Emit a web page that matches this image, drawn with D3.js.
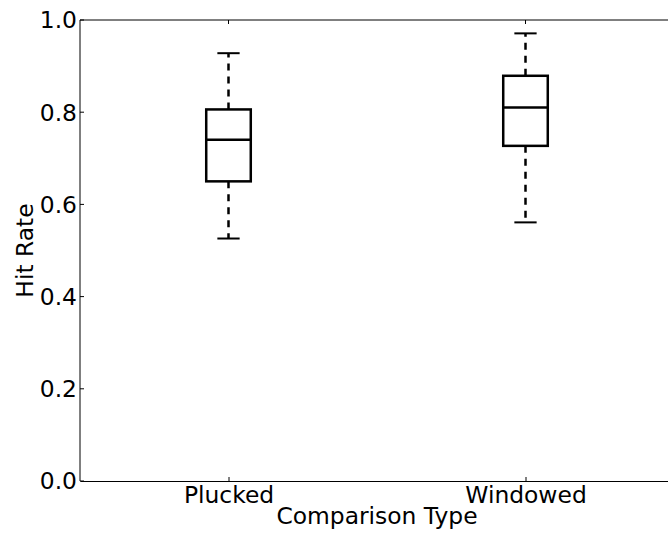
<!DOCTYPE html>
<html>
<head>
<meta charset="utf-8">
<script src="https://cdn.jsdelivr.net/npm/d3@7"></script>
<style>
  html, body { margin: 0; padding: 0; background: #fff; overflow: hidden; }
  svg { display: block; }
  text { font-family: "DejaVu Sans", sans-serif; fill: #000; }
</style>
</head>
<body>
<div id="chart"></div>
<script>
// Box plot summary statistics per comparison type
const categories = ["Plucked", "Windowed"];
const whiskerLow  = [0.526, 0.561];
const quartile1   = [0.650, 0.727];
const medians     = [0.740, 0.810];
const quartile3   = [0.806, 0.879];
const whiskerHigh = [0.928, 0.971];
const yTicks = [0.0, 0.2, 0.4, 0.6, 0.8, 1.0];

const W = 668, H = 536;
const fontSize = 23.4;

const svg = d3.select("#chart").append("svg")
  .attr("width", W).attr("height", H);

// positions 1..n, axis spans 0.5 .. n+0.5 (right edge runs past the view)
const x = d3.scaleLinear().domain([0.5, categories.length + 0.5]).range([80, 674]);
const y = d3.scaleLinear().domain([0, 1]).range([481, 20]);

const boxW = x(1.15) - x(1);
const capW = x(1.075) - x(1);

// plot frame clipped to the view: top spine plus the two visible axes
const frameRight = Math.min(x(2.5), W);
svg.append("path")
  .attr("d", `M${x(0.5)},${y(1)}H${frameRight}`)
  .attr("fill", "none").attr("stroke", "#000").attr("stroke-width", 1);

// top ticks at category positions (pointing inward)
categories.forEach((c, i) => {
  svg.append("line").attr("x1", x(i + 1)).attr("x2", x(i + 1))
    .attr("y1", y(1)).attr("y2", y(1) + 4)
    .attr("stroke", "#000").attr("stroke-width", 1);
});

// left axis, ticks pointing inward
const yAxis = d3.axisLeft(y).tickValues(yTicks).tickFormat(d3.format(".1f"))
  .tickSizeInner(-4).tickSizeOuter(0).tickPadding(3).offset(0);
const gy = svg.append("g").attr("transform", `translate(${x(0.5)},0)`).call(yAxis);
gy.selectAll("text").attr("font-size", fontSize).attr("font-family", "DejaVu Sans").attr("dy", "0.36em");
gy.select(".domain").attr("stroke", "#000").attr("stroke-width", 1);
gy.selectAll(".tick line").attr("stroke", "#000");

// bottom axis with category labels
const xAxis = d3.axisBottom(x).tickValues(categories.map((c, i) => i + 1))
  .tickFormat((d) => categories[d - 1])
  .tickSizeInner(-4).tickSizeOuter(0).tickPadding(5.5);
const gx = svg.append("g").attr("transform", `translate(0,${y(0)})`).call(xAxis);
gx.selectAll("text").attr("font-size", fontSize).attr("font-family", "DejaVu Sans");
gx.select(".domain").attr("stroke", "#000").attr("stroke-width", 1);
gx.selectAll(".tick line").attr("stroke", "#000");

// axis titles
svg.append("text")
  .attr("x", (x(0.5) + x(2.5)) / 2).attr("y", 524)
  .attr("text-anchor", "middle").attr("font-size", fontSize)
  .text("Comparison Type");
svg.append("text")
  .attr("transform", `translate(33,${(y(0) + y(1)) / 2}) rotate(-90)`)
  .attr("text-anchor", "middle").attr("font-size", fontSize)
  .text("Hit Rate");

// boxes
const boxes = svg.append("g");
categories.forEach((c, i) => {
  const cx = x(i + 1);
  const g = boxes.append("g");
  // whiskers
  g.append("line").attr("x1", cx).attr("x2", cx)
    .attr("y1", y(quartile1[i])).attr("y2", y(whiskerLow[i]))
    .attr("stroke", "#000").attr("stroke-width", 2.5).attr("stroke-dasharray", "7,6");
  g.append("line").attr("x1", cx).attr("x2", cx)
    .attr("y1", y(quartile3[i])).attr("y2", y(whiskerHigh[i]))
    .attr("stroke", "#000").attr("stroke-width", 2.5).attr("stroke-dasharray", "7,6");
  // caps
  [whiskerLow[i], whiskerHigh[i]].forEach((v) => {
    g.append("line").attr("x1", cx - capW / 2).attr("x2", cx + capW / 2)
      .attr("y1", y(v)).attr("y2", y(v))
      .attr("stroke", "#000").attr("stroke-width", 2);
  });
  // box
  g.append("rect")
    .attr("x", cx - boxW / 2).attr("width", boxW)
    .attr("y", y(quartile3[i])).attr("height", y(quartile1[i]) - y(quartile3[i]))
    .attr("fill", "none").attr("stroke", "#000").attr("stroke-width", 2.5);
  // median
  g.append("line").attr("x1", cx - boxW / 2).attr("x2", cx + boxW / 2)
    .attr("y1", y(medians[i])).attr("y2", y(medians[i]))
    .attr("stroke", "#000").attr("stroke-width", 2.5);
});
</script>
</body>
</html>
